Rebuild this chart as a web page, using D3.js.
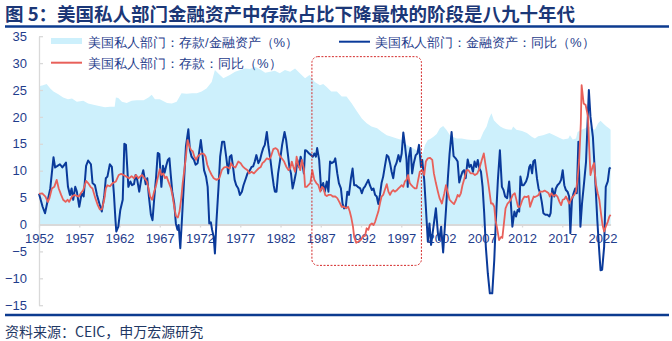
<!DOCTYPE html>
<html><head><meta charset="utf-8">
<script src="https://cdn.jsdelivr.net/npm/d3@7"></script>
<style>
body{margin:0;background:#fff;}
text{font-family:"Liberation Sans",Arial,sans-serif;}
.cjk{font-family:"Noto Sans CJK SC","Liberation Sans",sans-serif;}
</style></head>
<body><svg id="c" width="672" height="341"></svg>
<script>
const titleText = "图 5：美国私人部门金融资产中存款占比下降最快的阶段是八九十年代";
const sourceText = "资料来源：CEIC，申万宏源研究";
const seriesNames = ["美国私人部门：存款/金融资产（%）","美国私人部门：金融资产：同比（%）","美国私人部门：存款：同比（%）"];
const xTickYears = [1952,1957,1962,1967,1972,1977,1982,1987,1992,1997,2002,2007,2012,2017,2022];
const yTickValues = [-15,-10,-5,0,5,10,15,20,25,30,35];
const highlightPeriod = [1985.9, 1999.5];
const highlightRange = [-7.6, 31.2];

// Series 1: deposits / financial assets (%)
const shareYears = [1952.0,1952.5,1952.95,1953.4,1953.8,1954.4,1955.0,1955.6,1956.1,1956.7,1957.5,1958.1,1958.9,1959.6,1960.2,1960.8,1961.4,1961.55,1961.85,1962.3,1962.9,1963.5,1964.1,1965.0,1965.6,1966.0,1966.4,1967.0,1967.9,1968.5,1969.1,1969.7,1970.35,1971.0,1971.6,1972.2,1972.8,1973.45,1973.85,1974.25,1974.9,1975.7,1976.35,1977.0,1977.6,1978.2,1978.8,1979.4,1980.1,1980.7,1981.3,1981.9,1982.55,1983.2,1983.8,1984.4,1985.05,1985.6,1986.25,1986.9,1987.3,1987.7,1988.3,1989.0,1989.6,1990.2,1990.85,1991.5,1992.1,1992.7,1993.3,1994.0,1994.6,1995.2,1995.8,1996.45,1997.1,1997.7,1998.3,1998.9,1999.4,1999.7,1999.95,2000.3,2000.6,2001.0,2001.4,2001.8,2002.2,2002.6,2003.05,2003.5,2003.9,2004.5,2005.15,2005.8,2006.4,2006.8,2007.2,2007.6,2007.9,2008.2,2008.5,2008.85,2009.3,2009.7,2010.1,2010.7,2010.9,2011.3,2012.0,2012.6,2013.2,2013.6,2014.0,2014.6,2015.4,2016.0,2016.5,2017.1,2017.75,2017.95,2018.3,2018.7,2018.9,2019.4,2019.85,2020.25,2020.65,2021.05,2021.45,2021.75,2022.15,2022.5,2022.8,2023.0];
const shareValues = [25.7,25.9,26.1,25.3,24.7,24.2,23.6,23.3,23.4,22.8,23.0,22.5,22.2,22.0,21.8,21.9,21.9,23.6,23.5,22.8,22.6,23.0,23.1,23.1,23.6,24.1,23.3,23.3,22.6,22.5,22.8,24.4,24.3,24.4,24.4,24.7,25.3,26.5,28.7,28.1,27.2,27.8,28.4,28.7,29.0,28.9,29.3,28.9,28.2,28.4,28.6,28.1,28.7,28.4,29.0,28.1,27.2,27.8,26.5,25.9,26.1,25.6,24.7,24.7,23.8,23.8,22.5,21.0,19.7,18.8,18.2,17.9,17.2,16.6,16.3,16.0,15.7,14.8,14.3,13.8,13.0,13.4,14.8,15.7,15.9,16.3,16.8,17.9,18.3,17.6,16.6,16.2,16.0,16.0,15.8,15.7,15.7,15.8,17.2,18.2,19.7,20.7,19.4,18.8,18.2,17.9,17.7,17.6,18.2,17.6,17.4,17.0,16.3,16.0,16.4,16.6,17.0,16.6,16.2,15.8,16.0,16.6,15.8,16.0,17.2,17.6,17.9,18.3,17.9,17.6,18.8,19.3,18.7,18.2,17.9,17.6];

// Series 2: financial assets YoY (%)
const assetYears = [1952.0,1952.45,1952.75,1953.1,1953.4,1953.8,1954.0,1954.3,1954.6,1954.9,1955.1,1955.35,1955.6,1955.85,1956.05,1956.25,1956.5,1956.7,1957.0,1957.3,1957.55,1957.85,1958.1,1958.45,1958.65,1958.95,1959.2,1959.5,1959.8,1960.1,1960.3,1960.5,1960.8,1961.05,1961.3,1961.5,1961.6,1961.85,1962.1,1962.4,1962.6,1962.8,1963.1,1963.35,1963.55,1963.8,1964.0,1964.2,1964.45,1964.75,1964.95,1965.25,1965.45,1965.65,1965.9,1966.1,1966.3,1966.55,1966.75,1966.95,1967.2,1967.4,1967.6,1967.8,1968.0,1968.2,1968.35,1968.55,1968.8,1969.0,1969.2,1969.35,1969.55,1969.75,1970.0,1970.25,1970.55,1970.75,1970.95,1971.25,1971.45,1971.7,1971.9,1972.1,1972.3,1972.5,1972.75,1972.95,1973.15,1973.35,1973.5,1973.7,1973.85,1974.05,1974.3,1974.5,1974.75,1975.0,1975.25,1975.5,1975.7,1975.9,1976.1,1976.3,1976.5,1976.75,1976.95,1977.2,1977.4,1977.7,1977.9,1978.2,1978.4,1978.6,1978.8,1979.0,1979.25,1979.45,1979.65,1979.85,1980.05,1980.3,1980.5,1980.75,1980.95,1981.15,1981.3,1981.5,1981.7,1981.95,1982.2,1982.5,1982.7,1982.9,1983.1,1983.3,1983.5,1983.7,1983.9,1984.1,1984.3,1984.5,1984.7,1984.9,1985.05,1985.25,1985.55,1985.8,1986.0,1986.2,1986.4,1986.55,1986.8,1987.05,1987.3,1987.5,1987.75,1987.95,1988.15,1988.35,1988.65,1988.8,1989.05,1989.25,1989.5,1989.7,1989.9,1990.1,1990.3,1990.5,1990.75,1990.95,1991.15,1991.4,1991.6,1991.9,1992.1,1992.3,1992.5,1992.7,1992.9,1993.1,1993.35,1993.55,1993.75,1993.95,1994.15,1994.35,1994.55,1994.75,1994.95,1995.2,1995.4,1995.6,1995.8,1996.0,1996.2,1996.4,1996.65,1996.85,1997.05,1997.25,1997.45,1997.65,1997.8,1997.95,1998.15,1998.35,1998.55,1998.8,1999.0,1999.2,1999.45,1999.6,1999.85,2000.05,2000.3,2000.5,2000.7,2001.0,2001.3,2001.55,2001.7,2001.95,2002.2,2002.55,2002.8,2003.0,2003.25,2003.5,2003.75,2004.0,2004.2,2004.4,2004.6,2004.8,2005.0,2005.25,2005.45,2005.65,2005.9,2006.1,2006.3,2006.5,2006.7,2006.9,2007.1,2007.3,2007.5,2007.75,2008.0,2008.3,2008.55,2008.75,2009.0,2009.25,2009.5,2009.7,2009.9,2010.15,2010.4,2010.6,2010.8,2011.05,2011.25,2011.45,2011.65,2011.8,2012.0,2012.2,2012.5,2012.7,2012.9,2013.05,2013.25,2013.4,2013.6,2013.85,2014.05,2014.25,2014.45,2014.65,2014.9,2015.15,2015.4,2015.55,2015.75,2016.0,2016.2,2016.4,2016.65,2016.85,2017.05,2017.25,2017.45,2017.65,2017.85,2018.0,2018.2,2018.4,2018.6,2018.8,2019.0,2019.25,2019.45,2019.7,2019.95,2020.3,2020.5,2020.8,2021.05,2021.35,2021.55,2021.75,2021.95,2022.2,2022.4,2022.65,2022.85,2023.0];
const assetValues = [5.7,3.3,2.1,4.6,6.7,12.5,10.6,10.9,11.2,10.6,11.0,11.5,7.0,5.5,6.7,4.6,7.0,6.1,3.3,5.8,5.2,10.9,11.9,11.2,7.7,7.3,5.5,3.9,2.4,5.2,8.6,8.9,11.2,10.7,5.8,0.8,-1.3,-0.4,2.7,4.6,15.0,14.8,7.0,8.0,7.3,7.5,9.2,8.3,6.1,8.9,10.1,7.5,8.6,5.2,1.8,0.8,4.6,8.9,13.3,13.1,7.0,10.9,9.6,10.9,12.0,12.3,9.5,6.1,3.9,0.2,-1.0,-0.1,-4.4,0.8,7.7,14.5,17.7,13.8,12.6,12.0,11.1,11.4,13.5,15.7,13.2,10.1,8.9,7.0,0.2,0.4,-1.0,-2.3,-5.4,0.8,7.0,12.6,15.4,15.4,12.6,9.5,12.6,12.9,10.7,8.3,7.3,6.7,5.5,6.1,7.3,8.6,9.5,10.1,10.7,10.8,11.7,12.9,11.4,12.0,13.2,14.2,14.8,17.2,14.5,12.0,9.5,7.3,6.1,6.1,9.5,12.0,14.8,17.2,15.7,13.2,10.7,9.5,6.7,8.0,9.5,12.0,10.7,12.6,11.4,9.5,13.8,13.7,13.2,12.9,12.6,13.2,12.6,14.2,12.0,6.4,7.7,6.1,8.0,6.1,11.7,11.4,11.7,12.3,9.5,7.7,6.7,3.9,3.0,3.2,6.1,5.5,8.6,10.4,7.3,7.3,7.0,6.7,5.8,6.7,7.1,7.7,8.3,7.3,6.4,6.7,5.5,5.2,3.8,5.5,7.7,8.9,10.7,12.9,12.6,11.4,9.8,8.6,10.7,11.4,12.9,11.7,13.2,17.1,14.8,12.0,7.0,12.6,14.2,9.5,11.4,12.9,13.2,14.8,10.7,12.0,8.3,3.3,-3.2,0.2,-3.8,-0.4,3.0,-1.6,-2.9,-0.4,-5.2,2.7,8.9,13.2,17.2,12.7,12.3,11.7,7.8,8.9,9.8,10.1,8.6,12.1,10.7,11.1,9.8,11.7,10.7,12.0,10.4,9.8,7.0,2.1,-4.1,-9.1,-12.8,-12.8,-6.6,0.8,8.3,13.8,7.0,6.4,5.2,4.9,8.0,4.2,-0.4,2.4,1.5,2.7,2.4,8.9,7.3,7.3,8.0,8.9,10.7,11.1,9.5,11.7,12.0,8.6,6.7,5.8,4.2,2.1,1.8,1.8,1.5,2.1,6.7,5.2,6.7,7.3,7.7,8.3,10.1,7.3,6.4,6.1,5.2,-1.6,4.6,5.8,6.7,5.8,15.4,-0.4,3.9,7.7,11.7,25.0,20.0,16.3,9.5,0.8,-4.1,-8.5,-8.4,-4.1,7.0,8.0,10.4,10.6];

// Series 3: deposits YoY (%)
const depositYears = [1952.0,1952.4,1952.8,1953.1,1953.3,1953.6,1953.9,1954.2,1954.45,1954.75,1955.0,1955.3,1955.55,1955.75,1956.1,1956.4,1956.7,1956.95,1957.2,1957.5,1957.85,1958.1,1958.4,1958.65,1959.0,1959.3,1959.55,1959.8,1960.1,1960.3,1960.5,1960.8,1961.15,1961.55,1961.9,1962.2,1962.5,1962.85,1963.2,1963.5,1963.8,1964.05,1964.35,1964.55,1964.8,1965.1,1965.4,1965.6,1965.8,1966.05,1966.3,1966.55,1966.8,1967.0,1967.2,1967.45,1967.65,1967.85,1968.15,1968.4,1968.6,1968.8,1969.0,1969.25,1969.45,1969.65,1969.85,1970.05,1970.25,1970.45,1970.7,1970.9,1971.1,1971.3,1971.5,1971.7,1971.9,1972.2,1972.5,1972.7,1972.9,1973.15,1973.45,1973.7,1974.05,1974.4,1974.7,1975.0,1975.35,1975.7,1975.85,1976.1,1976.4,1976.75,1977.05,1977.3,1977.6,1977.9,1978.1,1978.4,1978.7,1978.95,1979.25,1979.55,1979.75,1980.0,1980.3,1980.6,1980.8,1981.1,1981.4,1981.65,1981.85,1982.15,1982.45,1982.7,1983.0,1983.2,1983.4,1983.6,1983.8,1984.0,1984.2,1984.45,1984.65,1984.9,1985.05,1985.25,1985.45,1985.7,1985.95,1986.2,1986.45,1986.7,1986.95,1987.15,1987.35,1987.55,1987.75,1987.95,1988.25,1988.5,1988.8,1989.05,1989.3,1989.6,1989.9,1990.15,1990.4,1990.6,1990.8,1991.0,1991.15,1991.4,1991.65,1991.95,1992.2,1992.5,1992.7,1992.9,1993.1,1993.35,1993.55,1993.75,1993.95,1994.15,1994.35,1994.55,1994.75,1994.95,1995.2,1995.4,1995.6,1995.8,1996.0,1996.2,1996.4,1996.65,1996.85,1997.05,1997.25,1997.45,1997.65,1997.85,1998.05,1998.25,1998.45,1998.7,1998.9,1999.1,1999.3,1999.6,1999.85,2000.05,2000.3,2000.55,2000.85,2001.05,2001.3,2001.55,2001.75,2002.05,2002.35,2002.55,2002.8,2003.0,2003.25,2003.55,2003.8,2004.0,2004.2,2004.4,2004.6,2004.85,2005.1,2005.35,2005.6,2005.9,2006.15,2006.45,2006.7,2007.0,2007.25,2007.5,2007.75,2007.95,2008.15,2008.35,2008.55,2008.7,2008.9,2009.15,2009.4,2009.55,2009.75,2009.95,2010.2,2010.4,2010.6,2010.85,2011.1,2011.25,2011.5,2011.75,2012.05,2012.3,2012.6,2012.8,2013.0,2013.2,2013.45,2013.6,2013.85,2014.05,2014.25,2014.55,2014.8,2015.05,2015.3,2015.45,2015.65,2015.9,2016.2,2016.4,2016.65,2016.85,2017.05,2017.25,2017.45,2017.65,2017.85,2018.1,2018.3,2018.5,2018.7,2018.9,2019.1,2019.3,2019.4,2019.65,2019.9,2020.2,2020.3,2020.5,2020.75,2020.95,2021.15,2021.4,2021.6,2021.8,2022.0,2022.2,2022.4,2022.65,2022.85,2023.0];
const depositValues = [5.7,5.8,5.2,4.2,4.9,6.7,7.0,8.3,6.7,5.5,4.6,4.2,4.6,4.2,5.2,5.5,5.3,5.2,5.8,6.4,8.1,7.7,7.0,6.7,4.9,3.6,2.8,2.8,4.6,6.7,7.3,7.1,7.7,8.0,9.2,9.4,9.2,8.9,8.6,9.0,8.6,9.2,8.6,8.9,9.2,8.6,8.0,6.7,5.2,4.6,6.1,7.3,9.0,10.3,9.2,9.5,8.6,8.9,7.7,6.7,5.2,3.3,1.6,1.3,2.4,4.6,7.7,10.1,12.6,15.7,14.5,13.8,13.6,12.6,12.0,12.6,12.9,13.2,13.1,12.6,11.1,10.1,9.2,8.6,8.3,8.6,10.1,10.6,10.7,10.4,11.4,10.8,10.6,11.7,11.4,10.8,10.4,10.1,9.5,9.8,9.5,9.9,10.4,10.7,11.4,11.7,12.3,12.1,12.6,14.0,14.2,13.9,12.9,12.3,11.7,10.8,10.1,10.4,11.7,10.7,9.8,12.6,11.1,10.1,12.0,10.4,7.0,7.0,7.3,7.7,10.1,8.3,7.7,7.3,6.1,7.0,6.7,5.5,5.3,5.5,5.5,5.2,5.2,4.9,4.2,3.3,3.3,3.0,3.3,2.4,1.2,-0.4,-2.3,-3.4,-3.2,-2.9,-2.3,-2.1,-0.7,-1.0,-0.1,0.2,-0.1,0.5,1.5,2.4,3.9,5.2,5.5,6.4,7.5,6.1,5.5,6.1,6.4,6.1,6.3,6.7,7.0,7.3,7.0,8.0,8.3,9.2,7.7,7.3,7.0,6.7,6.7,8.3,9.8,10.1,9.2,11.7,12.3,12.4,12.0,9.5,7.7,6.1,4.9,3.9,5.8,7.3,5.8,4.6,4.2,3.8,4.6,5.5,5.2,5.8,7.3,8.6,10.1,10.1,9.5,9.5,9.2,9.5,10.4,12.0,13.2,10.7,8.3,6.1,3.9,3.9,3.3,0.8,-0.7,-2.9,-2.3,-2.5,0.2,3.0,3.9,4.2,4.6,5.5,5.8,4.9,3.3,3.3,4.6,5.2,5.1,5.3,3.3,4.2,5.2,5.1,5.3,5.5,6.1,6.1,6.3,6.1,5.8,5.2,5.8,5.3,5.5,5.2,4.2,3.6,4.6,4.7,5.2,4.6,3.9,4.7,5.2,5.5,6.1,8.6,12.0,18.8,25.9,22.5,22.2,20.0,15.7,9.2,10.7,11.4,7.7,5.8,4.6,2.1,-0.1,-1.3,-0.4,0.5,1.5,1.8];

const colors = {area:"#cdf0fc", asset:"#0a3a9a", deposit:"#e8605a", text:"#1f3d8c", title:"#1b3777", rule:"#0c3b8f", axis:"#d9d9d9", box:"#d42a2a"};

const svg = d3.select("#c");
svg.append("rect").attr("width",672).attr("height",341).attr("fill","#fff");

const x = d3.scaleLinear().domain([1952, 2023]).range([39, 610.6]);
const y = d3.scaleLinear().domain([-15, 35]).range([305.2, 36.2]);

// title & rules
svg.append("text").attr("class","cjk").attr("x",5).attr("y",21)
  .attr("font-size",18.5).attr("font-weight","bold").attr("fill",colors.title).text(titleText);
svg.append("line").attr("x1",5).attr("x2",669).attr("y1",26.5).attr("y2",26.5)
  .attr("stroke",colors.rule).attr("stroke-width",2.5);
svg.append("line").attr("x1",5).attr("x2",669).attr("y1",315).attr("y2",315)
  .attr("stroke",colors.rule).attr("stroke-width",2.5);
svg.append("text").attr("class","cjk").attr("x",5).attr("y",337)
  .attr("font-size",14).attr("fill","#1f3864").text(sourceText);

// area
const shareData = shareYears.map((t,i)=>({t, v:shareValues[i]}));
svg.append("path").datum(shareData)
  .attr("d", d3.area().x(d=>x(d.t)).y0(y(0)).y1(d=>y(d.v)))
  .attr("fill", colors.area);

// y axis
const yAxis = svg.append("g").attr("transform",`translate(${x(1952)},0)`)
  .call(d3.axisLeft(y).tickValues(yTickValues).tickSizeInner(-4).tickSizeOuter(0).tickPadding(12));
yAxis.select(".domain").attr("stroke",colors.axis).attr("stroke-width",1.3);
yAxis.selectAll(".tick line").attr("stroke",colors.axis).attr("stroke-width",1.3);
yAxis.selectAll(".tick text").attr("font-size",13).attr("fill",colors.text)
  .attr("font-family","Liberation Sans, Arial, sans-serif");

// x axis at zero
const xAxis = svg.append("g").attr("transform",`translate(0,${y(0)})`)
  .call(d3.axisBottom(x).tickValues(xTickYears).tickFormat(d3.format("d")).tickSizeInner(3).tickSizeOuter(0).tickPadding(6));
xAxis.select(".domain").attr("stroke",colors.axis).attr("stroke-width",2);
xAxis.selectAll(".tick line").attr("stroke",colors.axis).attr("stroke-width",1.3);
xAxis.selectAll(".tick text").attr("font-size",13).attr("fill",colors.text)
  .attr("font-family","Liberation Sans, Arial, sans-serif");

// lines
const line = d3.line().x(d=>x(d.t)).y(d=>y(d.v));
const assetData = assetYears.map((t,i)=>({t, v:assetValues[i]}));
const depositData = depositYears.map((t,i)=>({t, v:depositValues[i]}));
svg.append("path").datum(assetData).attr("d",line).attr("fill","none")
  .attr("stroke",colors.asset).attr("stroke-width",2).attr("stroke-linejoin","round");
svg.append("path").datum(depositData).attr("d",line).attr("fill","none")
  .attr("stroke",colors.deposit).attr("stroke-width",1.8).attr("stroke-linejoin","round");

// highlight box
svg.append("rect")
  .attr("x",x(highlightPeriod[0])).attr("y",y(highlightRange[1]))
  .attr("width",x(highlightPeriod[1])-x(highlightPeriod[0]))
  .attr("height",y(highlightRange[0])-y(highlightRange[1]))
  .attr("rx",6).attr("fill","none").attr("stroke",colors.box)
  .attr("stroke-width",1).attr("stroke-dasharray","2,1.5");

// legend
const lg = svg.append("g").attr("class","cjk").attr("font-size",13).attr("fill",colors.text);
lg.append("rect").attr("x",51).attr("y",38).attr("width",31).attr("height",6).attr("fill",colors.area);
lg.append("text").attr("x",88).attr("y",46.5).text(seriesNames[0]);
lg.append("line").attr("x1",339).attr("x2",370).attr("y1",41.7).attr("y2",41.7).attr("stroke",colors.asset).attr("stroke-width",2);
lg.append("text").attr("x",375).attr("y",46.5).text(seriesNames[1]);
lg.append("line").attr("x1",51).attr("x2",82).attr("y1",62.7).attr("y2",62.7).attr("stroke",colors.deposit).attr("stroke-width",2);
lg.append("text").attr("x",88).attr("y",67.5).text(seriesNames[2]);
</script></body></html>
